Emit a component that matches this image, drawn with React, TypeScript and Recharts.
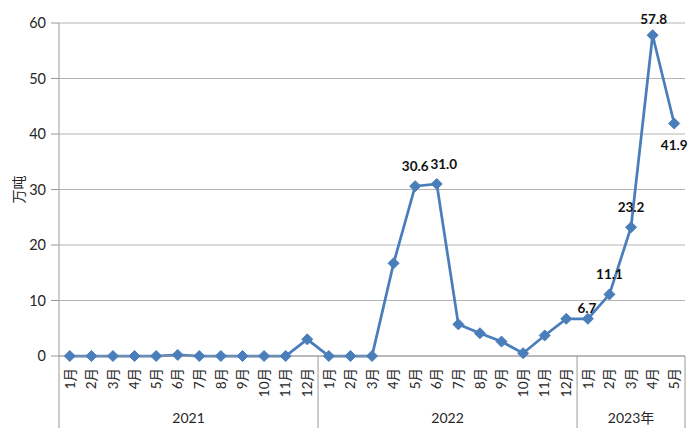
import { CartesianGrid, LabelList, Line, LineChart, XAxis, YAxis } from 'recharts';

// monthly values, 万吨
const months2021 = [0, 0, 0, 0, 0, 0.2, 0, 0, 0, 0, 0, 3.0];
const months2022 = [0, 0, 0, 16.7, 30.6, 31.0, 5.7, 4.1, 2.6, 0.5, 3.7, 6.7];
const months2023 = [6.7, 11.1, 23.2, 57.8, 41.9];
const monthNames = ['1月', '2月', '3月', '4月', '5月', '6月', '7月', '8月', '9月', '10月', '11月', '12月'];
const yearLabels = ['2021', '2022', '2023年'];
const yTicks = [0, 10, 20, 30, 40, 50, 60];

const yearValues = [months2021, months2022, months2023];

const data = yearValues.flatMap((vals, yi) =>
  vals.map((v, mi) => ({
    key: `${yi}-${mi}`,
    year: yi,
    month: mi,
    count: vals.length,
    value: v,
  }))
);

// which points get a data label, and how far it sits from the point
const labelOffsets: Record<string, [number, number]> = {
  '1-4': [0, -20],
  '1-5': [7, -20],
  '2-0': [-1, -11],
  '2-1': [0, -20],
  '2-2': [0, -20],
  '2-3': [1, -16],
  '2-4': [0, 22],
};

const BLUE = '#4A7EBB';
const AXIS = '#9a9a9a';
const TEXT = '#262626';
const FONT = "Lato, 'Noto Sans CJK SC', sans-serif";

function MonthTick(props: any) {
  const { x, y, payload, width } = props;
  const d = data[payload.index];
  const band = (width || 626) / data.length;
  const mid = Math.floor((d.count - 1) / 2);
  const yearX = x + ((d.count - 1) / 2 - d.month) * band;
  return (
    <g>
      <text
        x={x}
        y={y + 12}
        dy="0.35em"
        transform={`rotate(-90, ${x}, ${y + 12})`}
        textAnchor="end"
        fontSize={13.5}
        fill={TEXT}
        fontFamily={FONT}
      >
        {monthNames[d.month]}
      </text>
      {d.month === 0 && (
        <line x1={x - band / 2} x2={x - band / 2} y1={y} y2={y + 72} stroke={AXIS} strokeWidth={1} />
      )}
      {d.month === d.count - 1 && d.year === yearValues.length - 1 && (
        <line x1={x + band / 2} x2={x + band / 2} y1={y} y2={y + 72} stroke={AXIS} strokeWidth={1} />
      )}
      {d.month === mid && (
        <text x={yearX} y={y + 61} textAnchor="middle" dominantBaseline="central" fontSize={14} fill={TEXT} fontFamily={FONT}>
          {yearLabels[d.year]}
        </text>
      )}
    </g>
  );
}

function Diamond(props: any) {
  const { cx, cy, index } = props;
  const r = 5.5;
  return (
    <path
      key={`dot-${index}`}
      d={`M${cx},${cy - r} L${cx + r},${cy} L${cx},${cy + r} L${cx - r},${cy} Z`}
      fill={BLUE}
      stroke={BLUE}
    />
  );
}

function PointLabel(props: any) {
  const { x, y, value, index } = props;
  const off = labelOffsets[data[index].key];
  if (!off) return null;
  return (
    <text
      x={x + off[0]}
      y={y + off[1]}
      textAnchor="middle"
      dominantBaseline="central"
      fontSize={13.5}
      fontWeight="bold"
      fill="#111"
      fontFamily={FONT}
    >
      {Number(value).toFixed(1)}
    </text>
  );
}

export default function App() {
  return (
    <div style={{ position: 'absolute', left: 0, top: 0, background: '#fff' }}>
      <LineChart width={700} height={437} data={data} margin={{ top: 23, right: 15, left: 0, bottom: 0 }}>
        <CartesianGrid vertical={false} stroke="#b5b5b5" strokeWidth={1} />
        <XAxis
          dataKey="key"
          scale="band"
          interval={0}
          tickLine={false}
          tickSize={0}
          tickMargin={0}
          axisLine={{ stroke: AXIS }}
          height={81}
          tick={<MonthTick />}
        />
        <YAxis
          domain={[0, 60]}
          ticks={yTicks}
          width={59}
          tickSize={8}
          tickMargin={5}
          axisLine={{ stroke: AXIS }}
          tickLine={{ stroke: AXIS }}
          tick={{ fontSize: 14.5, fill: TEXT, fontFamily: FONT }}
          label={{
            value: '万吨',
            angle: -90,
            position: 'insideLeft',
            offset: 19,
            style: { textAnchor: 'middle', fontSize: 14, fill: TEXT, fontFamily: FONT },
          }}
        />
        <Line
          type="linear"
          dataKey="value"
          stroke={BLUE}
          strokeWidth={2.75}
          dot={Diamond}
          activeDot={false}
          isAnimationActive={false}
        >
          <LabelList dataKey="value" content={PointLabel} />
        </Line>
      </LineChart>
    </div>
  );
}
